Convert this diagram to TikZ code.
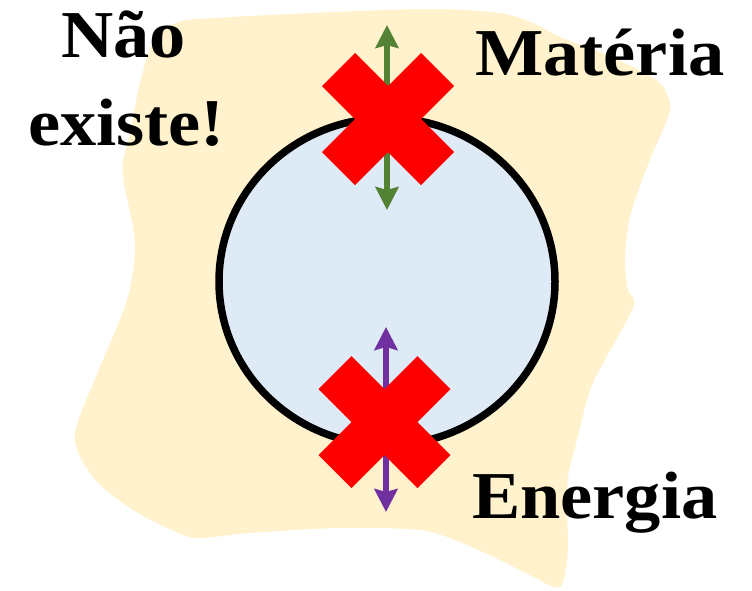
\documentclass[tikz,border=0pt]{standalone}
\usepackage{fontspec}
\setmainfont[FakeStretch=1.08]{Liberation Serif}
\usetikzlibrary{shapes.geometric,arrows.meta}
\definecolor{blobyellow}{HTML}{FFF2CC}
\definecolor{cellblue}{HTML}{DEEBF7}
\definecolor{matgreen}{HTML}{548235}
\definecolor{enpurple}{HTML}{7030A0}
\definecolor{xred}{HTML}{FF0000}
\tikzset{
  label text/.style={font=\bfseries\fontsize{67}{67}\selectfont, inner sep=0pt},
  flowarrow/.style={line width=6pt, {Stealth[length=23pt,width=23pt,inset=3pt]}-{Stealth[length=23pt,width=23pt,inset=3pt]}},
  redx/.pic={\fill[xred] (0,-33) -- (33,-66) -- (66,-33) -- (33,0) -- (66,33) -- (33,66)
     -- (0,33) -- (-33,66) -- (-66,33) -- (-33,0) -- (-66,-33) -- (-33,-66) -- cycle;}
}
\begin{document}
\begin{tikzpicture}[x=1pt,y=-1pt]
\useasboundingbox (0,0) rectangle (752,590);
% background blob
\fill[blobyellow] plot[smooth cycle, tension=0.5] coordinates {
 (178,22) (233,17) (333,12) (433,9) (500,13) (533,23) (560,37) (600,52) (633,67) (660,83)
 (670,103) (667,120) (647,167) (630,217) (625,260) (628,290) (633,308) (593,383) (577,440)
 (568,477) (567,515) (568,550) (560,587) (530,575) (485,553) (426,531) (340,528) (250,533)
 (203,538) (183,535) (133,510) (93,477) (75,435) (100,367) (127,300) (135,243) (123,178)
 (124,157) (130,133) (140,83) (153,43)};
% cell
\node[draw=black, fill=cellblue, ellipse, line width=7.5pt, inner sep=0pt,
      minimum width=336pt, minimum height=327pt] (cell) at (387,281.5) {};
% arrows
\coordinate (mtop) at (387,25);
\coordinate (mbot) at (387,210);
\coordinate (etop) at (386,327);
\coordinate (ebot) at (386,512);
\draw[flowarrow, matgreen] (mtop) -- (mbot);
\draw[flowarrow, enpurple] (etop) -- (ebot);
% crosses
\pic (xtop) at (388,119) {redx};
\pic (xbot) at (384.5,422) {redx};
% labels
\node[label text, anchor=base] (nao) at (123.5,57) {Não};
\node[label text, anchor=base] (existe) at (126.5,145) {existe!};
\node[label text, anchor=base west] (materia) at (475,75) {Matéria};
\node[label text, anchor=base west] (energia) at (472,518) {Energia};
\end{tikzpicture}
\end{document}
